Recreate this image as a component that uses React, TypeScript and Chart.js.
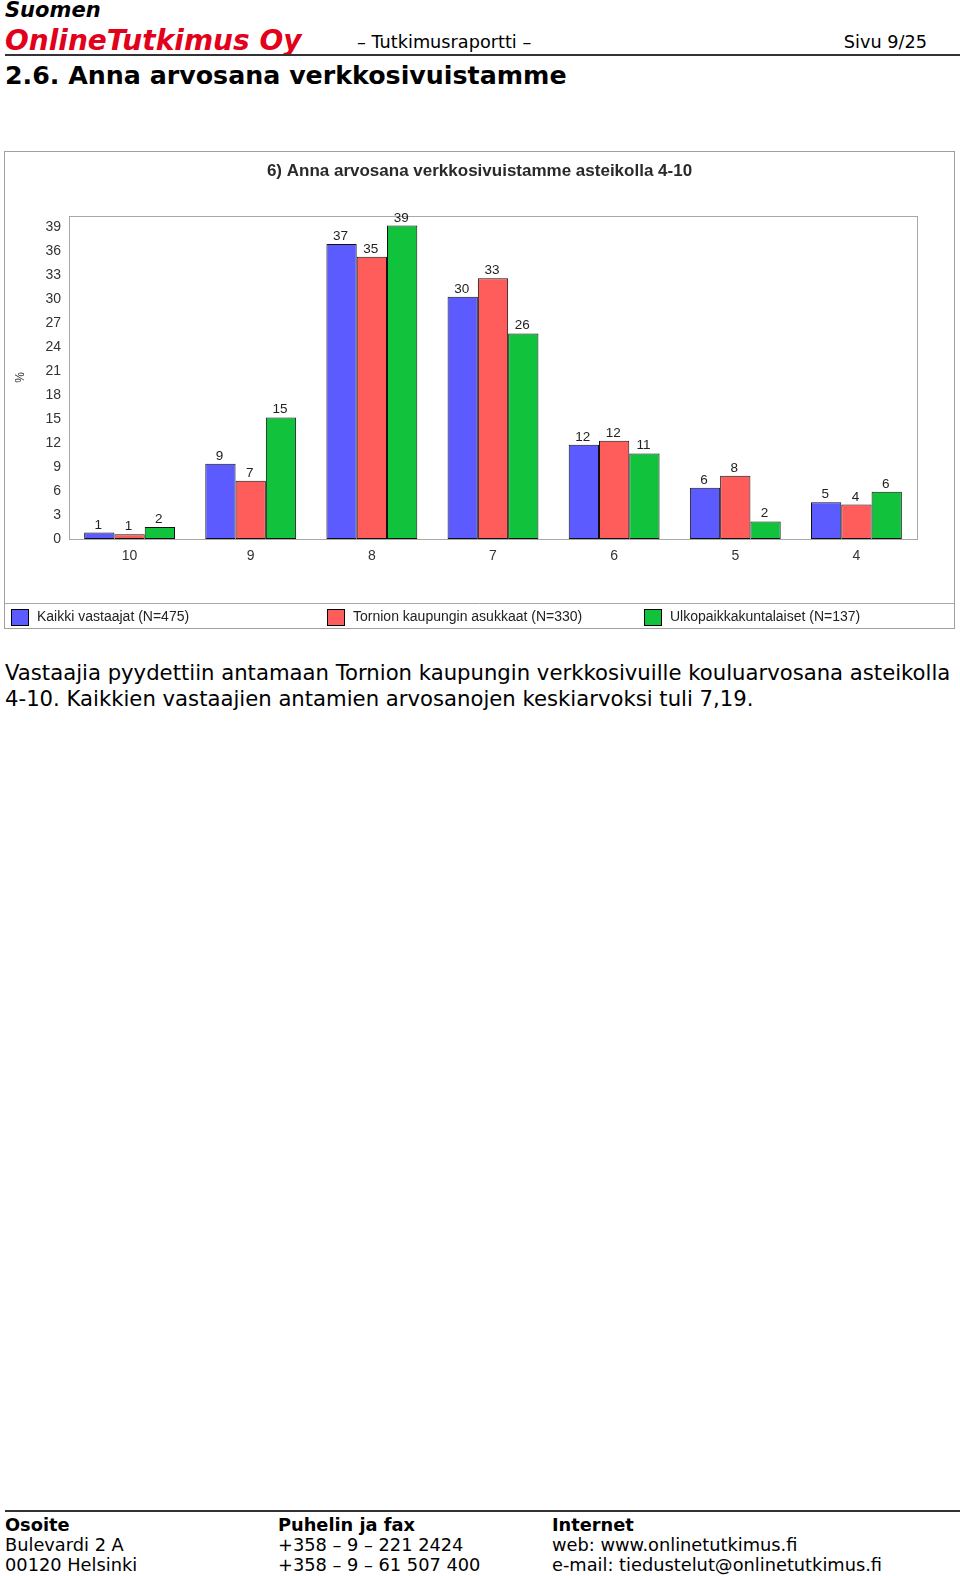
import React, { useEffect, useRef } from 'react';
import { Chart, registerables } from 'chart.js';

Chart.register(...registerables);

// ---- data ----
const categories = ['10', '9', '8', '7', '6', '5', '4'];
const seriesLabels = [
  'Kaikki vastaajat (N=475)',
  'Tornion kaupungin asukkaat (N=330)',
  'Ulkopaikkakuntalaiset (N=137)',
];
const allRespondents = [0.8, 9.4, 36.9, 30.3, 11.8, 6.4, 4.6];
const tornioResidents = [0.6, 7.3, 35.3, 32.6, 12.3, 7.9, 4.3];
const outsiders = [1.5, 15.2, 39.2, 25.7, 10.7, 2.2, 5.9];
const seriesColors = ['#5b5bff', '#ff5c5c', '#10c23c'];
const yTickValues = [0, 3, 6, 9, 12, 15, 18, 21, 24, 27, 30, 33, 36, 39];
const yMax = 40.4;
const chartTitle = '6) Anna arvosana verkkosivuistamme asteikolla 4-10';

const CHART_FONT = '"Liberation Sans", Arial, sans-serif';

const framePlugin = {
  id: 'plotFrame',
  beforeDatasetsDraw(chart: any) {
    const { ctx, chartArea: a } = chart;
    ctx.save();
    ctx.strokeStyle = '#a8a8a8';
    ctx.lineWidth = 1;
    ctx.strokeRect(
      Math.round(a.left) + 0.5,
      Math.round(a.top) + 0.5,
      Math.round(a.right - a.left),
      Math.round(a.bottom - a.top)
    );
    ctx.restore();
  },
};

const valueLabelPlugin = {
  id: 'valueLabels',
  afterDatasetsDraw(chart: any) {
    const { ctx } = chart;
    ctx.save();
    ctx.font = `13.5px ${CHART_FONT}`;
    ctx.fillStyle = '#222';
    ctx.textAlign = 'center';
    ctx.textBaseline = 'bottom';
    chart.data.datasets.forEach((ds: any, i: number) => {
      const meta = chart.getDatasetMeta(i);
      meta.data.forEach((bar: any, j: number) => {
        ctx.fillText(String(Math.round(ds.data[j])), bar.x - 1, bar.y - 1);
      });
    });
    ctx.restore();
  },
};

const bandLegendPlugin = {
  id: 'bandLegend',
  afterDraw(chart: any) {
    const { ctx, width, height } = chart;
    const bandTop = height - 25;
    ctx.save();
    ctx.strokeStyle = '#a8a8a8';
    ctx.lineWidth = 1;
    ctx.beginPath();
    ctx.moveTo(0, Math.round(bandTop) + 0.5);
    ctx.lineTo(width, Math.round(bandTop) + 0.5);
    ctx.stroke();
    const colW = width / 3;
    ctx.font = `14px ${CHART_FONT}`;
    ctx.textBaseline = 'middle';
    ctx.textAlign = 'left';
    chart.data.datasets.forEach((ds: any, i: number) => {
      const x0 = Math.round(6 + i * colW);
      ctx.fillStyle = ds.backgroundColor;
      ctx.fillRect(x0, bandTop + 6, 17, 16);
      ctx.strokeStyle = '#000';
      ctx.strokeRect(x0 + 0.5, bandTop + 6.5, 17, 16);
      ctx.fillStyle = '#222';
      ctx.fillText(ds.label, x0 + 26, bandTop + 14.5);
    });
    ctx.restore();
  },
};

function BarChart() {
  const ref = useRef<HTMLCanvasElement | null>(null);
  useEffect(() => {
    if (!ref.current) return;
    const series = [allRespondents, tornioResidents, outsiders];
    const chart = new Chart(ref.current, {
      type: 'bar',
      data: {
        labels: categories,
        datasets: series.map((d, i) => ({
          label: seriesLabels[i],
          data: d,
          backgroundColor: seriesColors[i],
          borderColor: '#111',
          borderWidth: 1,
          borderSkipped: false,
          categoryPercentage: 0.75,
          barPercentage: 1.0,
        })),
      },
      options: {
        responsive: false,
        maintainAspectRatio: false,
        animation: false,
        devicePixelRatio: 1,
        layout: { padding: { left: 0, right: 0, top: 0, bottom: 25 } },
        plugins: {
          legend: { display: false },
          tooltip: { enabled: false },
          title: {
            display: true,
            text: chartTitle,
            color: '#2a2a2a',
            font: { family: CHART_FONT, size: 17, weight: 'bold' },
            padding: { top: 9, bottom: 34.6 },
          },
        },
        scales: {
          x: {
            grid: { display: false, drawTicks: false },
            border: { display: false },
            ticks: {
              color: '#333',
              font: { family: CHART_FONT, size: 14 },
              padding: 9,
              maxRotation: 0,
            },
            afterFit: (s: any) => {
              s.height = 64;
            },
          },
          y: {
            min: 0,
            max: yMax,
            grid: { display: false, drawTicks: false },
            border: { display: false },
            ticks: {
              color: '#333',
              font: { family: CHART_FONT, size: 14 },
              padding: 8,
            },
            afterBuildTicks: (s: any) => {
              s.ticks = yTickValues.map((v) => ({ value: v }));
            },
            afterFit: (s: any) => {
              s.width = 64;
            },
            title: {
              display: true,
              text: '%',
              color: '#333',
              font: { family: CHART_FONT, size: 12 },
              padding: { top: 8, bottom: 0 },
            },
          },
          yRightSpace: {
            type: 'linear',
            position: 'right',
            display: true,
            min: 0,
            max: yMax,
            grid: { display: false, drawTicks: false },
            border: { display: false },
            ticks: { display: false },
            afterFit: (s: any) => {
              s.width = 37;
            },
          },
        },
      },
      plugins: [framePlugin, valueLabelPlugin, bandLegendPlugin],
    } as any);
    return () => chart.destroy();
  }, []);
  return <canvas ref={ref} width={949} height={476} style={{ display: 'block', width: 949, height: 476 }} />;
}

const PAGE_FONT = '"DejaVu Sans", Verdana, sans-serif';

function T(props: { x?: number; right?: number; cy: number; size: number; lh?: number; style?: React.CSSProperties; children: React.ReactNode }) {
  const lh = props.lh ?? Math.round(props.size * 1.25);
  const pos: React.CSSProperties = props.right !== undefined ? { right: props.right } : { left: props.x };
  return (
    <div
      style={{
        position: 'absolute',
        ...pos,
        top: props.cy - lh / 2,
        fontSize: props.size,
        lineHeight: `${lh}px`,
        whiteSpace: 'nowrap',
        ...props.style,
      }}
    >
      {props.children}
    </div>
  );
}

export default function App() {
  return (
    <div
      style={{
        position: 'absolute',
        left: 0,
        top: 0,
        width: 960,
        height: 1576,
        background: '#fff',
        fontFamily: PAGE_FONT,
        color: '#000',
        overflow: 'hidden',
      }}
    >
      <T x={5} cy={10} size={21} style={{ fontWeight: 'bold', fontStyle: 'italic' }}>Suomen</T>
      <T x={5} cy={40} size={28} style={{ fontWeight: 'bold', fontStyle: 'italic', color: '#e3001b' }}>OnlineTutkimus Oy</T>
      <T x={357} cy={42} size={17.7}>– Tutkimusraportti –</T>
      <T right={33} cy={42} size={17.7}>Sivu 9/25</T>
      <div style={{ position: 'absolute', left: 5, top: 54, width: 955, height: 2, background: '#333' }} />
      <T x={5} cy={76} size={25.3} style={{ fontWeight: 'bold' }}>2.6. Anna arvosana verkkosivuistamme</T>

      <div
        style={{
          position: 'absolute',
          left: 4,
          top: 151,
          width: 949,
          height: 476,
          border: '1px solid #a0a0a0',
        }}
      >
        <BarChart />
      </div>

      <T x={5} cy={673} size={21.2} lh={26}>
        Vastaajia pyydettiin antamaan Tornion kaupungin verkkosivuille kouluarvosana asteikolla
      </T>
      <T x={5} cy={699} size={21.2} lh={26}>
        4-10. Kaikkien vastaajien antamien arvosanojen keskiarvoksi tuli 7,19.
      </T>

      <div style={{ position: 'absolute', left: 5, top: 1510, width: 955, height: 2, background: '#333' }} />
      <T x={5} cy={1525} size={17.8} style={{ fontWeight: 'bold' }}>Osoite</T>
      <T x={5} cy={1545} size={17.8}>Bulevardi 2 A</T>
      <T x={5} cy={1565} size={17.8}>00120 Helsinki</T>
      <T x={278} cy={1525} size={17.8} style={{ fontWeight: 'bold' }}>Puhelin ja fax</T>
      <T x={278} cy={1545} size={17.8}>+358 – 9 – 221 2424</T>
      <T x={278} cy={1565} size={17.8}>+358 – 9 – 61 507 400</T>
      <T x={552} cy={1525} size={17.8} style={{ fontWeight: 'bold' }}>Internet</T>
      <T x={552} cy={1545} size={17.8}>web: www.onlinetutkimus.fi</T>
      <T x={552} cy={1565} size={17.8}>e-mail: tiedustelut@onlinetutkimus.fi</T>
    </div>
  );
}
